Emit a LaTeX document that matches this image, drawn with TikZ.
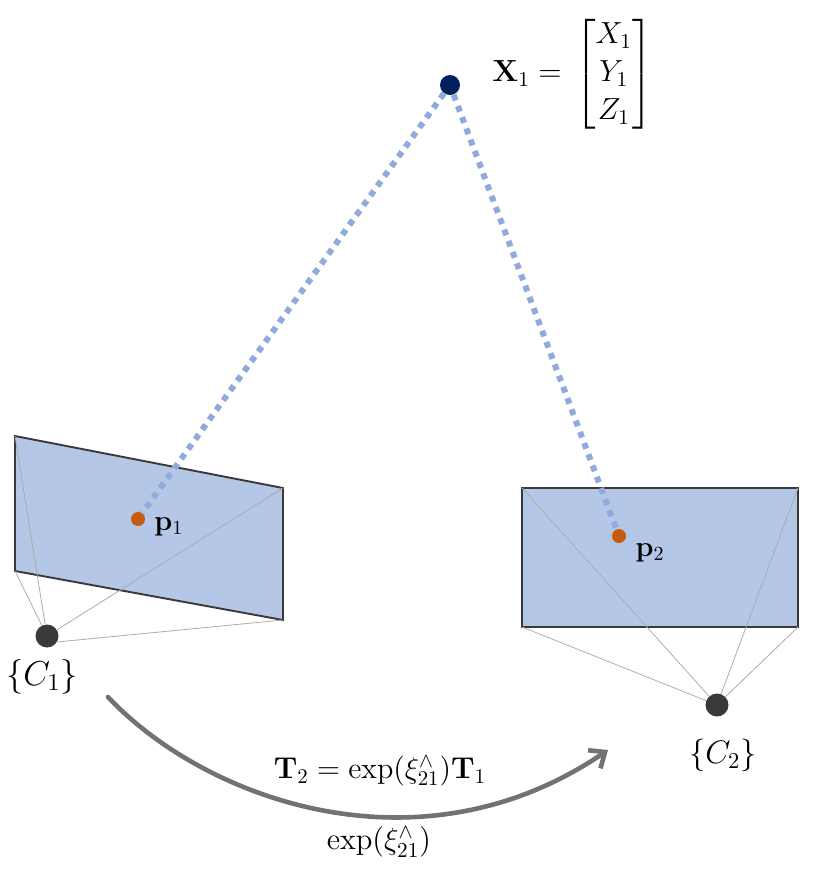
\documentclass[tikz,border=0pt]{standalone}
\usepackage{amsmath}
\usetikzlibrary{arrows.meta}
\definecolor{planefill}{HTML}{B4C7E7}
\definecolor{planeedge}{HTML}{3B3838}
\definecolor{raycol}{HTML}{8FAADC}
\definecolor{ptcol}{HTML}{C55A11}
\definecolor{worldcol}{HTML}{002060}
\definecolor{thincol}{HTML}{AFABAB}
\definecolor{arrowcol}{HTML}{767171}
\newcommand{\sizedtxt}[2]{\scalebox{#1}{#2}}
\tikzset{
  plane/.style={fill=planefill,draw=planeedge,line width=0.95pt,line join=miter},
  frustum/.style={draw=thincol,line width=0.4pt},
  ray/.style={draw=raycol,line width=3pt,dash pattern=on 3pt off 3pt},
  dotmark/.style={circle,fill=#1,inner sep=0pt,draw=none},
  lab/.style={inner sep=0pt,text=black,font=\Large},
  motion/.style={draw=arrowcol,line width=2.3pt,-{Straight Barb[length=6.5pt,width=11pt,line width=2.3pt]},line cap=round}
}
\begin{document}
\begin{tikzpicture}[x=0.5pt,y=-0.5pt]
\useasboundingbox (0,0) rectangle (818,875);
\coordinate (a1) at (15,436);
\coordinate (a2) at (283,488);
\coordinate (a3) at (283,620);
\coordinate (a4) at (15,571);
\coordinate (b1) at (522,488);
\coordinate (b2) at (798,488);
\coordinate (b3) at (798,627);
\coordinate (b4) at (522,627);
\coordinate (ms) at (108,697);
\coordinate (me) at (608,750);
\draw[plane] (a1) -- (a2) -- (a3) -- (a4) -- cycle;
\draw[plane] (b1) -- (b2) -- (b3) -- (b4) -- cycle;
\node[dotmark=planeedge,minimum size=11.5pt] (c1) at (47,636) {};
\node[dotmark=planeedge,minimum size=11.5pt] (c2) at (717,705) {};
\node[dotmark=ptcol,minimum size=7pt] (p1) at (138,519) {};
\node[dotmark=ptcol,minimum size=7pt] (p2) at (619,536) {};
\node[dotmark=worldcol,minimum size=10pt] (x1) at (450,85) {};
\draw[frustum] (c1) -- (a1);
\draw[frustum] (c1) -- (a2);
\draw[frustum] (c1.-30) -- (a3);
\draw[frustum] (c1) -- (a4);
\foreach \k in {b1,b2,b3,b4} \draw[frustum] (c2) -- (\k);
\draw[ray] (x1) -- (p1);
\draw[ray] (x1) -- (p2);
\node[lab,anchor=west] (xl) at (492,74) {\sizedtxt{1.06}{$\mathbf{X}_1=\,\begin{bmatrix}X_1\\Y_1\\Z_1\end{bmatrix}$}};
\node[lab] (pl1) at (169,527) {$\mathbf{p}_1$};
\node[lab] (pl2) at (650,553) {$\mathbf{p}_2$};
\node[lab] (cl1) at (42,677) {\sizedtxt{1.2}{$\{C_1\}$}};
\node[lab] (cl2) at (723,755) {\sizedtxt{1.13}{$\{C_2\}$}};
\node[lab] (tl) at (380,771) {\sizedtxt{1.045}{$\mathbf{T}_2=\exp(\xi_{21}^{\wedge})\mathbf{T}_1$}};
\node[lab] (el) at (379,842) {\sizedtxt{1.06}{$\exp(\xi_{21}^{\wedge})$}};
\draw[motion] (ms) .. controls (205,800) and (420,878) .. (me);
\end{tikzpicture}
\end{document}
